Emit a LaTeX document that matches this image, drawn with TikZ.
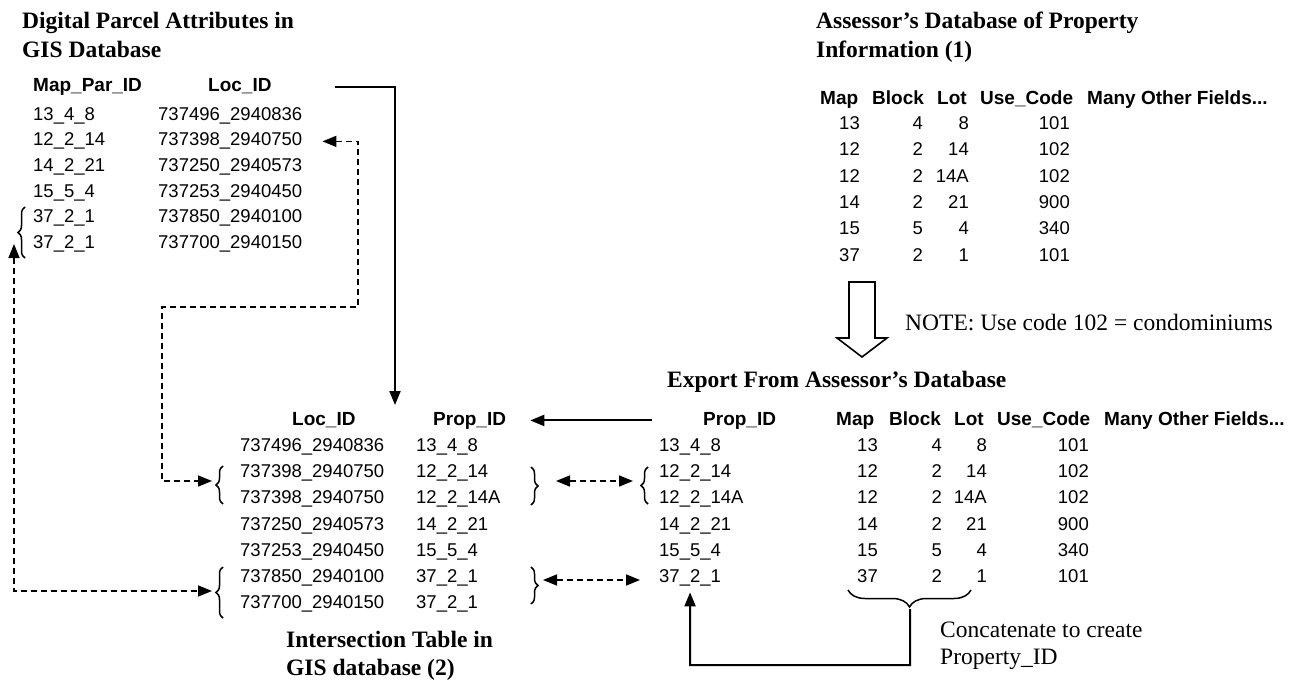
\documentclass[tikz,border=0pt]{standalone}
\usepackage{fontspec}
\setmainfont{Liberation Serif}
\newfontfamily\tabfont{Liberation Sans}
\usetikzlibrary{arrows.meta,decorations.pathreplacing}
\begin{document}
\begin{tikzpicture}[x=1pt,y=-1pt,
  >={Triangle[length=14pt,width=11pt]},
  ttl/.style={font=\bfseries\fontsize{23.5}{28}\selectfont, inner sep=0pt, anchor=base west},
  note/.style={font=\fontsize{23.5}{28}\selectfont, inner sep=0pt, anchor=base west},
  cell/.style={font=\tabfont\fontsize{18.5}{22}\selectfont, inner sep=0pt, anchor=base west},
  rcell/.style={cell, anchor=base east},
  hcell/.style={font=\tabfont\bfseries\fontsize{19}{22}\selectfont, inner sep=0pt, anchor=base west},
  link/.style={line width=2pt},
  dlink/.style={line width=1.6pt, dash pattern=on 6pt off 4pt},
  brc/.style={decorate, decoration={brace, amplitude=#1}, line width=1.5pt},
  brc/.default=7pt]
\useasboundingbox (0,0) rectangle (1302,682);

% ---------- top-left: Digital Parcel Attributes ----------
\node[ttl] (tlT1) at (22,29) {Digital Parcel Attributes in};
\node[ttl] (tlT2) at (22,58) {GIS Database};
\node[hcell] (tlH1) at (33,92) {Map\_Par\_ID};
\node[hcell] (tlH2) at (208,92) {Loc\_ID};
\foreach \i/\a/\b [evaluate=\i as \y using 120.5+(\i-1)*25.5] in
  {1/13\_4\_8/737496\_2940836, 2/12\_2\_14/737398\_2940750,
   3/14\_2\_21/737250\_2940573, 4/15\_5\_4/737253\_2940450,
   5/37\_2\_1/737850\_2940100, 6/37\_2\_1/737700\_2940150}{
  \node[cell] (tlA\i) at (33,\y) {\a};
  \node[cell] (tlB\i) at (158,\y) {\b};
}
\draw[brc] (25,258) -- (25,207);

% ---------- top-right: Assessor's Database ----------
\node[ttl] (trT1) at (816,29) {Assessor’s Database of Property};
\node[ttl] (trT2) at (816,58) {Information (1)};
\node[hcell] (trH1) at (820,105) {Map};
\node[hcell] (trH2) at (872,105) {Block};
\node[hcell] (trH3) at (937,105) {Lot};
\node[hcell] (trH4) at (980,105) {Use\_Code};
\node[hcell] (trH5) at (1087,105) {Many Other Fields...};
\foreach \i/\a/\b/\c/\d [evaluate=\i as \y using 129.5+(\i-1)*26.3] in
  {1/13/4/8/101, 2/12/2/14/102, 3/12/2/14A/102, 4/14/2/21/900,
   5/15/5/4/340, 6/37/2/1/101}{
  \node[rcell] (trA\i) at (860,\y) {\a};
  \node[rcell] (trB\i) at (923,\y) {\b};
  \node[rcell] (trC\i) at (969,\y) {\c};
  \node[rcell] (trD\i) at (1070,\y) {\d};
}

% hollow arrow and note
\draw[line width=1.6pt, line join=miter] (849,282) -- (875,282) -- (875,338) -- (887,338)
  -- (862,357) -- (837,338) -- (849,338) -- cycle;
\node[note] (note) at (905,330) {NOTE: Use code 102 = condominiums};

% ---------- bottom-right: Export ----------
\node[ttl] (brT) at (667,387) {Export From Assessor’s Database};
\node[hcell] (brH0) at (703,425) {Prop\_ID};
\node[hcell] (brH1) at (836,425) {Map};
\node[hcell] (brH2) at (889,425) {Block};
\node[hcell] (brH3) at (954,425) {Lot};
\node[hcell] (brH4) at (997,425) {Use\_Code};
\node[hcell] (brH5) at (1104,425) {Many Other Fields...};
\foreach \i/\p/\a/\b/\c/\d [evaluate=\i as \y using 451.5+(\i-1)*26.2] in
  {1/13\_4\_8/13/4/8/101, 2/12\_2\_14/12/2/14/102, 3/12\_2\_14A/12/2/14A/102,
   4/14\_2\_21/14/2/21/900, 5/15\_5\_4/15/5/4/340, 6/37\_2\_1/37/2/1/101}{
  \node[cell] (brP\i) at (659,\y) {\p};
  \node[rcell] (brA\i) at (878,\y) {\a};
  \node[rcell] (brB\i) at (942,\y) {\b};
  \node[rcell] (brC\i) at (987,\y) {\c};
  \node[rcell] (brD\i) at (1089,\y) {\d};
}
\draw[brc] (648,504) -- (648,467);
\draw[brc=17pt] (971,590) -- (848,590);
\node[note] (cat1) at (940,637) {Concatenate to create};
\node[note] (cat2) at (940,664) {Property\_ID};

% ---------- bottom-left: Intersection table ----------
\node[hcell] (blH1) at (292,425) {Loc\_ID};
\node[hcell] (blH2) at (433,425) {Prop\_ID};
\foreach \i/\a/\b [evaluate=\i as \y using 451.5+(\i-1)*26.2] in
  {1/737496\_2940836/13\_4\_8, 2/737398\_2940750/12\_2\_14,
   3/737398\_2940750/12\_2\_14A, 4/737250\_2940573/14\_2\_21,
   5/737253\_2940450/15\_5\_4, 6/737850\_2940100/37\_2\_1,
   7/737700\_2940150/37\_2\_1}{
  \node[cell] (blA\i) at (240,\y) {\a};
  \node[cell] (blB\i) at (416,\y) {\b};
}
\draw[brc] (223,504) -- (223,466);
\draw[brc] (223,618) -- (223,567);
\draw[brc] (531,467) -- (531,505);
\draw[brc] (531,567) -- (531,604);
\node[ttl] (blT1) at (286,647) {Intersection Table in};
\node[ttl] (blT2) at (286,675) {GIS database (2)};

% ---------- connectors ----------
\coordinate (blIn) at (395,405);
\draw[link,->] ([xshift=63pt]tlH2.east) -| (blIn);

\draw[link,->] ([xshift=-51pt]brH0.west) -- ([xshift=24pt]blH2.east);

\coordinate (d1) at (358,307);
\coordinate (d2) at (162,481);
\coordinate (d3) at (212,481);
\draw[dlink,<->] ([xshift=20pt]tlB2.east) -| (d1) -| (d2) -- (d3);

\coordinate (e1) at (14,244);
\coordinate (e3) at (212,591);
\draw[dlink,<->] (e1) |- (e3);

\coordinate (f1) at (556,481);
\coordinate (f2) at (633,481);
\draw[dlink,<->] (f1) -- (f2);
\coordinate (f3) at (543,580);
\coordinate (f4) at (640,580);
\draw[dlink,<->] (f3) -- (f4);

\coordinate (g1) at (910,609);
\coordinate (g2) at (690,665);
\draw[link,->] (g1) |- (g2) -- ([yshift=-6pt]brP6.south);
\end{tikzpicture}
\end{document}
